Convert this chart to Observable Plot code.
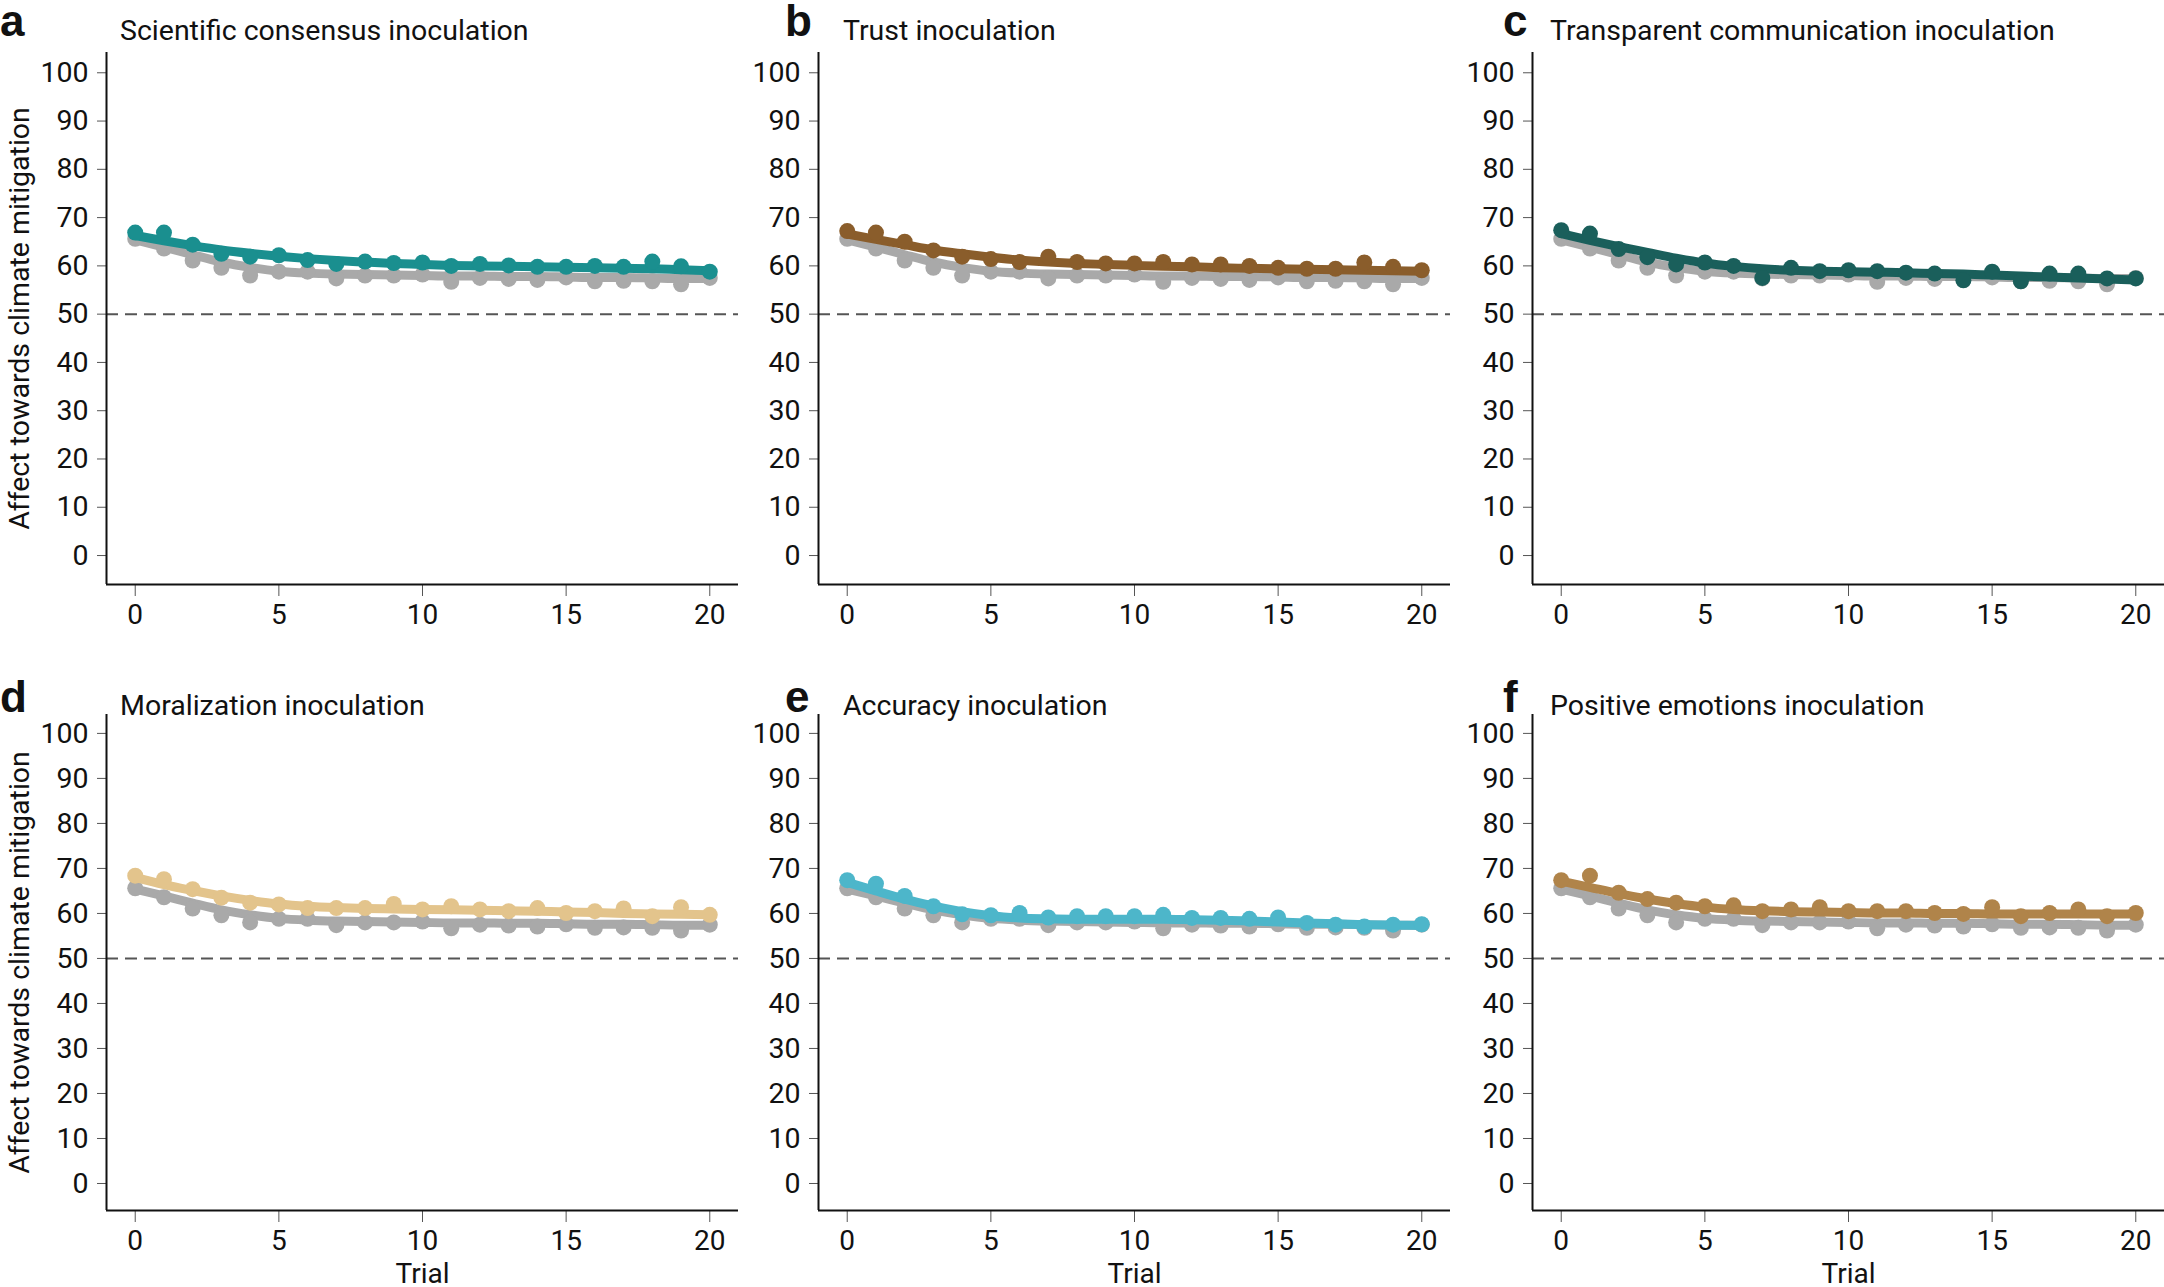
<!DOCTYPE html>
<html>
<head>
<meta charset="utf-8">
<script src="https://cdn.jsdelivr.net/npm/d3@7"></script>
<script src="https://cdn.jsdelivr.net/npm/@observablehq/plot@0.6"></script>
<style>
  html, body { margin: 0; padding: 0; background: #fff; overflow: hidden; }
  #wrap { position: relative; width: 2164px; height: 1287px; font-family: Roboto, "Liberation Sans", sans-serif; color: #111; }
  .panel { position: absolute; }
  .letter { position: absolute; font-weight: 700; font-size: 44px; line-height: 1; font-family: "Liberation Sans", Arial, sans-serif; }
  .title { position: absolute; font-size: 28.5px; line-height: 1; white-space: nowrap; }
</style>
</head>
<body>
<div id="wrap"></div>
<script>
// ---- data ----
const trials = [0,1,2,3,4,5,6,7,8,9,10,11,12,13,14,15,16,17,18,19,20];
const xTicks = [0, 5, 10, 15, 20];
const yTicks = [0, 10, 20, 30, 40, 50, 60, 70, 80, 90, 100];

const control    = [65.6, 63.6, 61.1, 59.6, 58.0, 58.8, 58.8, 57.4, 58.0, 58.0, 58.2, 56.7, 57.5, 57.3, 57.1, 57.6, 56.8, 56.9, 56.8, 56.2, 57.5];
const controlFit = [65.4, 63.9, 62.3, 60.8, 59.7, 58.9, 58.5, 58.3, 58.2, 58.1, 58.0, 57.9, 57.9, 57.8, 57.8, 57.7, 57.6, 57.6, 57.5, 57.4, 57.4];

const consensus    = [66.9, 66.9, 64.4, 62.5, 61.9, 62.2, 61.2, 60.4, 60.9, 60.6, 60.7, 60.0, 60.4, 60.1, 59.8, 59.8, 60.0, 59.8, 60.9, 59.9, 58.8];
const consensusFit = [66.3, 65.2, 64.2, 63.3, 62.6, 62.0, 61.5, 61.1, 60.8, 60.5, 60.3, 60.1, 60.0, 59.9, 59.8, 59.7, 59.6, 59.5, 59.4, 59.2, 59.0];

const trust    = [67.2, 66.9, 65.0, 63.2, 61.9, 61.4, 60.8, 61.9, 60.8, 60.5, 60.5, 60.8, 60.3, 60.3, 60.0, 59.6, 59.4, 59.4, 60.7, 59.8, 59.1];
const trustFit = [66.6, 65.5, 64.4, 63.3, 62.5, 61.8, 61.2, 60.8, 60.5, 60.3, 60.1, 59.9, 59.8, 59.6, 59.5, 59.4, 59.3, 59.2, 59.1, 59.0, 58.9];

const transparent    = [67.4, 66.7, 63.5, 61.8, 60.3, 60.7, 60.0, 57.5, 59.6, 58.9, 59.1, 58.9, 58.6, 58.4, 57.0, 58.8, 56.8, 58.4, 58.4, 57.4, 57.4];
const transparentFit = [66.7, 65.3, 64.0, 62.8, 61.6, 60.6, 59.9, 59.4, 59.1, 58.9, 58.8, 58.7, 58.6, 58.4, 58.3, 58.1, 57.9, 57.7, 57.5, 57.3, 57.1];

const moralization    = [68.4, 67.6, 65.4, 63.5, 62.4, 62.0, 61.2, 61.2, 61.2, 62.1, 60.9, 61.6, 60.9, 60.5, 61.2, 60.1, 60.5, 61.1, 59.4, 61.4, 59.7];
const moralizationFit = [68.0, 66.4, 65.1, 63.9, 62.9, 62.1, 61.6, 61.3, 61.1, 61.0, 60.9, 60.8, 60.7, 60.6, 60.5, 60.3, 60.2, 60.0, 59.9, 59.8, 59.7];

const accuracy    = [67.4, 66.6, 63.9, 61.6, 59.8, 59.6, 60.1, 59.1, 59.4, 59.4, 59.4, 59.7, 59.0, 59.0, 58.8, 59.1, 57.9, 57.5, 57.1, 57.5, 57.6];
const accuracyFit = [66.9, 65.0, 63.2, 61.7, 60.4, 59.5, 59.0, 58.8, 58.7, 58.7, 58.7, 58.7, 58.6, 58.5, 58.3, 58.1, 57.9, 57.7, 57.5, 57.4, 57.3];

const positive    = [67.4, 68.4, 64.6, 63.2, 62.4, 61.6, 61.8, 60.5, 60.9, 61.4, 60.5, 60.5, 60.5, 60.1, 59.9, 61.4, 59.4, 60.1, 60.9, 59.4, 60.1];
const positiveFit = [67.2, 65.8, 64.4, 63.2, 62.2, 61.4, 60.9, 60.6, 60.4, 60.3, 60.2, 60.1, 60.1, 60.0, 60.0, 59.9, 59.9, 59.9, 59.9, 59.9, 59.9];

const letters = ["a", "b", "c", "d", "e", "f"];
const titles = ["Scientific consensus inoculation", "Trust inoculation", "Transparent communication inoculation",
                "Moralization inoculation", "Accuracy inoculation", "Positive emotions inoculation"];
const seriesList = [consensus, trust, transparent, moralization, accuracy, positive];
const fitList = [consensusFit, trustFit, transparentFit, moralizationFit, accuracyFit, positiveFit];
const colors = ["#1a8f8f", "#8a5d2b", "#1a5f5b", "#e3c48c", "#4db6ca", "#b0844a"];
const controlColor = "#a9a9a9";
const yLabel = "Affect towards climate mitigation";
const xLabel = "Trial";

// ---- layout ----
const colLeft = [0, 712, 1426];
const letterOffset = [0, 73, 77];
const titleOffset = [120, 131, 124];
const rowTop = [0, 660];
const rowSpec = [
  {height: 640, marginTop: 52, marginBottom: 56},
  {height: 627, marginTop: 54, marginBottom: 77}
];
const titleY = [[21, 32], [697, 707]];

const wrap = document.getElementById("wrap");

for (let i = 0; i < 6; i++) {
  const r = Math.floor(i / 3), c = i % 3;
  const spec = rowSpec[r];
  const ctrlData = trials.map((t, k) => ({trial: t, value: control[k]}));
  const ctrlFitData = trials.map((t, k) => ({trial: t, value: controlFit[k]}));
  const data = trials.map((t, k) => ({trial: t, value: seriesList[i][k]}));
  const fitData = trials.map((t, k) => ({trial: t, value: fitList[i][k]}));

  const chart = Plot.plot({
    width: 740,
    height: spec.height,
    marginLeft: 106,
    marginRight: 2,
    marginTop: spec.marginTop,
    marginBottom: spec.marginBottom,
    style: {fontFamily: "Roboto, 'Liberation Sans', sans-serif", fontSize: "24.5px", color: "#111", background: "none", overflow: "visible"},
    x: {domain: [-1, 21]},
    y: {domain: [-6, 104.2]},
    marks: [
      Plot.axisY({ticks: yTicks, tickSize: 9, tickPadding: 9, stroke: "#555",
        label: c === 0 ? yLabel : null, labelAnchor: "center", labelArrow: "none", labelOffset: 98, fontSize: 28.5}),
      Plot.axisX({ticks: xTicks, tickSize: 12, tickPadding: 8, stroke: "#555",
        label: r === 1 ? xLabel : null, labelAnchor: "center", labelArrow: "none", labelOffset: 72, fontSize: 28}),
      Plot.ruleY([50], {stroke: "#555", strokeWidth: 2, strokeDasharray: "12,7"}),
      Plot.line(ctrlFitData, {x: "trial", y: "value", stroke: controlColor, strokeWidth: 9, curve: "monotone-x", strokeLinecap: "round"}),
      Plot.dot(ctrlData, {x: "trial", y: "value", fill: controlColor, r: 8}),
      Plot.line(fitData, {x: "trial", y: "value", stroke: colors[i], strokeWidth: 9, curve: "monotone-x", strokeLinecap: "round"}),
      Plot.dot(data, {x: "trial", y: "value", fill: colors[i], r: 8}),
      Plot.ruleX([-1], {stroke: "#111", strokeWidth: 2}),
      Plot.ruleY([-6], {stroke: "#111", strokeWidth: 2})
    ]
  });
  chart.classList.add("panel");
  chart.style.left = colLeft[c] + "px";
  chart.style.top = rowTop[r] + "px";
  wrap.appendChild(chart);

  const L = document.createElement("div");
  L.className = "letter";
  L.textContent = letters[i];
  L.style.left = (colLeft[c] + letterOffset[c]) + "px";
  L.style.top = (titleY[r][0] - 22) + "px";
  wrap.appendChild(L);

  const T = document.createElement("div");
  T.className = "title";
  T.textContent = titles[i];
  T.style.left = (colLeft[c] + titleOffset[c]) + "px";
  T.style.top = (titleY[r][1] - 15) + "px";
  wrap.appendChild(T);
}
</script>
</body>
</html>
